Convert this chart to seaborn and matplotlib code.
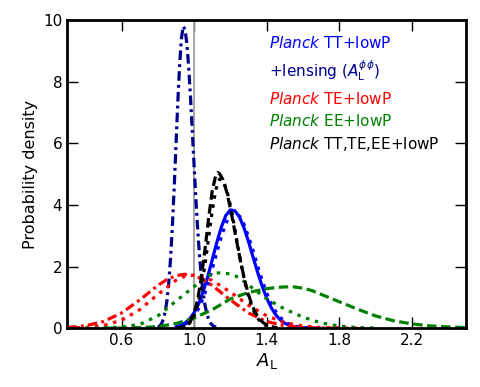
import numpy as np
import pandas as pd
import matplotlib
matplotlib.use("Agg")
import matplotlib.pyplot as plt
import seaborn as sns

# values
tt_x = [0.900, 0.925, 0.950, 0.975, 1.000, 1.025, 1.050, 1.075, 1.100, 1.125, 1.150,
        1.175, 1.200, 1.225, 1.250, 1.275, 1.300, 1.325, 1.350, 1.375, 1.400, 1.425,
        1.450, 1.475, 1.500, 1.525, 1.550, 1.575, 1.600, 1.625, 1.650]
tt_y = [0.044, 0.088, 0.167, 0.298, 0.502, 0.794, 1.187, 1.673, 2.22, 2.78, 3.28,
        3.66, 3.84, 3.81, 3.61, 3.26, 2.81, 2.31, 1.82, 1.37, 0.978, 0.669,
        0.437, 0.272, 0.162, 0.092, 0.050, 0.026, 0.013, 0.006, 0.002]
tt2_y = [0.03, 0.065, 0.125, 0.23, 0.39, 0.64, 0.97, 1.41, 1.91, 2.45, 2.97,
         3.40, 3.68, 3.75, 3.64, 3.38, 2.97, 2.52, 2.02, 1.56, 1.15, 0.81,
         0.54, 0.35, 0.21, 0.125, 0.07, 0.037, 0.019, 0.009, 0.004]

lens_x = [0.80, 0.81, 0.82, 0.83, 0.84, 0.85, 0.86, 0.87, 0.88, 0.89, 0.90, 0.91,
          0.92, 0.93, 0.94, 0.95, 0.96, 0.97, 0.98, 0.99, 1.00, 1.01, 1.02, 1.03,
          1.04, 1.05, 1.06, 1.07, 1.08, 1.09, 1.10, 1.12]
lens_y = [0.032, 0.070, 0.144, 0.280, 0.513, 0.890, 1.457, 2.25, 3.30, 4.56, 5.94, 7.33,
          8.54, 9.41, 9.80, 9.69, 9.23, 8.48, 7.50, 6.40, 5.26, 4.17, 3.18, 2.34,
          1.66, 1.13, 0.747, 0.473, 0.289, 0.171, 0.097, 0.028]

te_x = [0.3, 0.4, 0.5, 0.6, 0.7, 0.8, 0.85, 0.9, 0.95, 1.0, 1.05, 1.1, 1.2, 1.3,
        1.4, 1.5, 1.6, 1.7, 1.8]
te_y = [0.022, 0.077, 0.216, 0.494, 0.917, 1.388, 1.579, 1.705, 1.75, 1.705, 1.579,
        1.388, 0.917, 0.494, 0.216, 0.077, 0.022, 0.005, 0.001]
te2_x = [0.3, 0.4, 0.5, 0.6, 0.7, 0.8, 0.9, 0.95, 1.0, 1.05, 1.1, 1.2, 1.3, 1.4,
         1.5, 1.6, 1.7, 1.8, 1.9]
te2_y = [0.004, 0.022, 0.085, 0.257, 0.601, 1.095, 1.555, 1.686, 1.72, 1.667, 1.548,
         1.173, 0.748, 0.400, 0.180, 0.068, 0.022, 0.006, 0.001]

ee_x = [0.5, 0.6, 0.7, 0.8, 0.9, 1.0, 1.1, 1.2, 1.3, 1.4, 1.45, 1.5, 1.55, 1.6,
        1.65, 1.7, 1.8, 1.9, 2.0, 2.1, 2.2, 2.3, 2.4, 2.5]
ee_y = [0.002, 0.006, 0.02, 0.05, 0.15, 0.33, 0.60, 0.95, 1.16, 1.28, 1.32, 1.34,
        1.34, 1.30, 1.22, 1.10, 0.86, 0.62, 0.40, 0.24, 0.14, 0.075, 0.04, 0.02]
ee2_x = [0.4, 0.5, 0.6, 0.7, 0.8, 0.9, 1.0, 1.1, 1.15, 1.2, 1.25, 1.3, 1.4, 1.5,
         1.6, 1.7, 1.8, 1.9, 2.0]
ee2_y = [0.002, 0.01, 0.04, 0.12, 0.40, 0.88, 1.35, 1.78, 1.80, 1.76, 1.64, 1.40,
         0.95, 0.62, 0.36, 0.17, 0.07, 0.02, 0.005]

all_x = [0.90, 0.92, 0.94, 0.96, 0.98, 1.00, 1.02, 1.04, 1.06, 1.08, 1.10, 1.12, 1.13,
         1.14, 1.16, 1.18, 1.20, 1.22, 1.24, 1.26, 1.28, 1.30, 1.32, 1.34, 1.36,
         1.38, 1.40, 1.42, 1.44, 1.46]
all_y = [0.003, 0.011, 0.034, 0.091, 0.222, 0.483, 0.940, 1.640, 2.555, 3.570, 4.457,
         4.98, 5.05, 5.02, 4.81, 4.42, 3.89, 3.28, 2.66, 2.06, 1.53, 1.09, 0.742,
         0.485, 0.304, 0.183, 0.105, 0.058, 0.030, 0.015]
all2_x = [0.92, 0.94, 0.96, 0.98, 1.00, 1.02, 1.04, 1.06, 1.08, 1.10, 1.12, 1.14,
          1.16, 1.18, 1.20, 1.22, 1.24, 1.26, 1.28, 1.30, 1.32, 1.34, 1.36, 1.38,
          1.40, 1.42, 1.44]
all2_y = [0.012, 0.033, 0.084, 0.194, 0.403, 0.763, 1.315, 2.063, 2.94, 3.82, 4.50,
          4.84, 4.78, 4.48, 3.99, 3.38, 2.70, 2.06, 1.49, 1.03, 0.67, 0.415, 0.245,
          0.137, 0.073, 0.037, 0.018]

legend_labels = [r"$\mathit{Planck}$ TT+lowP",
                 r"+lensing ($A_{\rm L}^{\phi\phi}$)",
                 r"$\mathit{Planck}$ TE+lowP",
                 r"$\mathit{Planck}$ EE+lowP",
                 r"$\mathit{Planck}$ TT,TE,EE+lowP"]
legend_colors = ["#0000ff", "#00008b", "#ff0000", "#008000", "#000000"]

sns.set_style("ticks", {"axes.edgecolor": "black", "xtick.color": "black",
                        "ytick.color": "black", "text.color": "black",
                        "axes.labelcolor": "black"})
plt.rcParams["font.family"] = ["DejaVu Sans"]
plt.rcParams["mathtext.fontset"] = "dejavusans"

fig = plt.figure(figsize=(4.8, 3.87), dpi=100)
ax = fig.add_axes([0.140, 0.152, 0.831, 0.796])

ax.axvline(1.0, color="#a0a0a0", lw=1.3, zorder=1)

dash = {"-": None, "--": (3, 1.4), ":": (1.1, 1.8), "-.": (3, 1.3, 0.9, 1.3)}
curves = [
    (tt_x, tt_y, "#0000ff", "-"),
    (tt_x, tt2_y, "#0000ff", ":"),
    (lens_x, lens_y, "#00008b", "-."),
    (te_x, te_y, "#ff0000", "-."),
    (te2_x, te2_y, "#ff0000", ":"),
    (ee_x, ee_y, "#008000", "--"),
    (ee2_x, ee2_y, "#008000", ":"),
    (all_x, all_y, "#000000", "--"),
    (all2_x, all2_y, "#000000", ":"),
]
for cx, cy, col, ls in curves:
    df = pd.DataFrame({"x": cx, "y": cy})
    ln = sns.lineplot(data=df, x="x", y="y", ax=ax, color=col, lw=2.3).lines[-1]
    if dash[ls] is not None:
        ln.set_dashes(dash[ls])

ax.set_xlim(0.3, 2.5)
ax.set_ylim(0, 10)
ax.set_xticks([0.6, 1.0, 1.4, 1.8, 2.2])
ax.set_yticks([0, 2, 4, 6, 8, 10])
ax.set_xticklabels(["0.6", "1.0", "1.4", "1.8", "2.2"])
ax.tick_params(direction="in", length=8, width=1, top=True, right=True, labelsize=11,
               colors="black")
for s in ax.spines.values():
    s.set_linewidth(2)
    s.set_color("black")
ax.set_xlabel(r"$A_{\rm L}$", fontsize=13, labelpad=2)
ax.set_ylabel("Probability density", fontsize=11.5)

ys = [0.925, 0.835, 0.745, 0.672, 0.598]
for lab, col, yy in zip(legend_labels, legend_colors, ys):
    ax.text(0.505, yy, lab, color=col, fontsize=11, transform=ax.transAxes,
            va="center", ha="left")

fig.savefig("out.png", dpi=100)
